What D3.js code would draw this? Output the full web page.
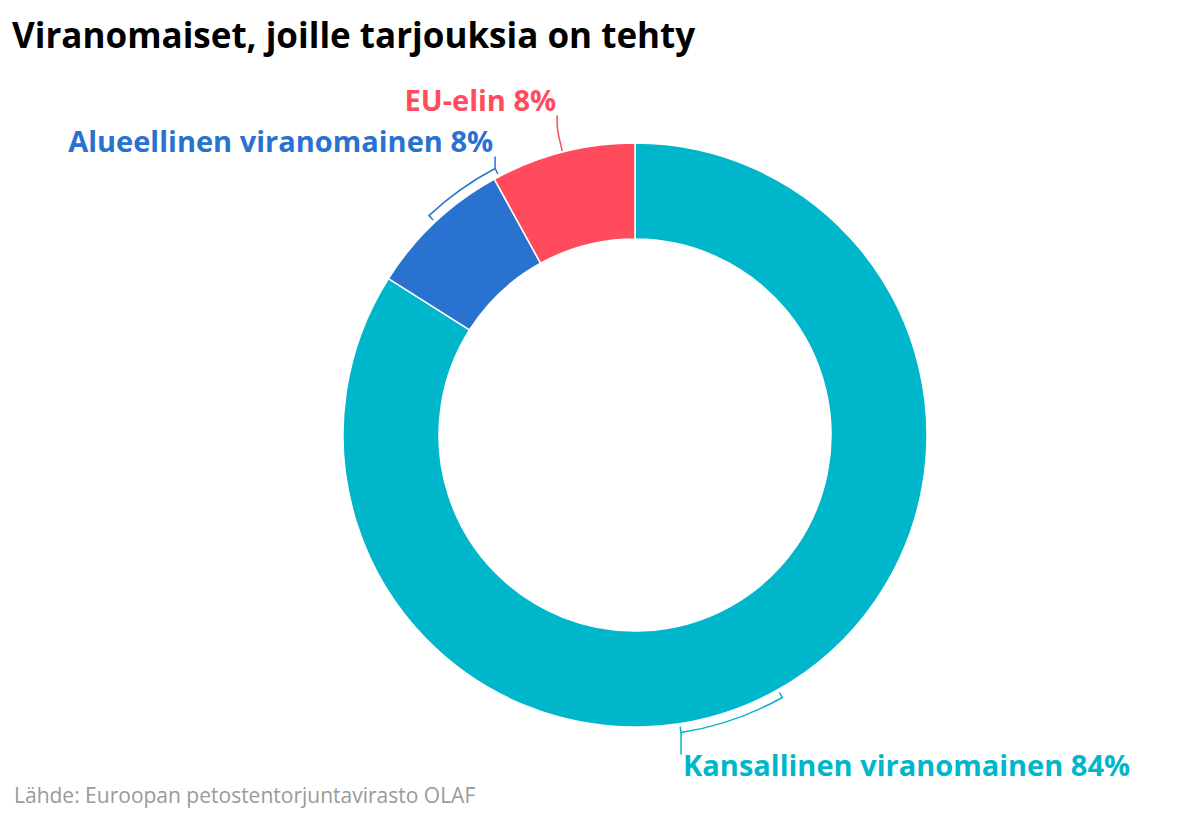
<!DOCTYPE html>
<html><head><meta charset="utf-8">
<script src="https://cdn.jsdelivr.net/npm/d3@7"></script>
<style>body{margin:0;background:#fff;font-family:"Open Sans",sans-serif}</style>
</head><body><svg id="c" width="1199" height="827"></svg>
<script>
const categories = ["Kansallinen viranomainen","Alueellinen viranomainen","EU-elin"];
const values = [84, 8, 8];
const colors = ["#00b6cb","#2a72d0","#ff4b5c"];
const title = "Viranomaiset, joille tarjouksia on tehty";
const source = "Lähde: Euroopan petostentorjuntavirasto OLAF";

const svg = d3.select("#c");
svg.append("text").attr("x",12).attr("y",48).attr("font-size",35).attr("font-weight",700)
  .attr("fill","#000").text(title);
svg.append("text").attr("x",14).attr("y",803).attr("font-size",21).attr("fill","#9a9a9a").text(source);

const cx=635, cy=435, R=292, r=196;
const g = svg.append("g").attr("transform",`translate(${cx},${cy})`);
const pie = d3.pie().sort(null).value(d=>d)(values);
const arc = d3.arc().innerRadius(r).outerRadius(R);
g.selectAll("path.s").data(pie).join("path").attr("class","s")
  .attr("d",arc).attr("fill",(d,i)=>colors[i]).attr("stroke","#fff").attr("stroke-width",1.5);

const pt=(a,rad)=>[rad*Math.sin(a), -rad*Math.cos(a)];
const deg=Math.PI/180;
// brackets
function bracket(a0,a1,i){
  const rr=301, ri=295;
  const p=d3.path();
  const s0=pt(a0,ri), s1=pt(a0,rr);
  p.moveTo(...s0); p.lineTo(...s1);
  p.arc(0,0,rr,a0-Math.PI/2,a1-Math.PI/2,false);
  const e=pt(a1,ri); p.lineTo(...e);
  g.append("path").attr("d",p.toString()).attr("fill","none").attr("stroke",colors[i]).attr("stroke-width",1.5);
}
const mid=d=>(d.startAngle+d.endAngle)/2;
// Kansallinen
bracket(mid(pie[0])-0.5*deg, mid(pie[0])+20*deg, 0);
{const e=pt(mid(pie[0])+20*deg,301);
 g.append("line").attr("x1",e[0]).attr("y1",e[1]).attr("x2",e[0]).attr("y2",e[1]+22).attr("stroke",colors[0]).attr("stroke-width",1.5);
 g.append("text").attr("x",e[0]+2).attr("y",e[1]+44).attr("font-size",29).attr("font-weight",700).attr("fill",colors[0])
  .text(`${categories[0]} ${values[0]}%`);}
// Alueellinen
bracket(mid(pie[1]), mid(pie[1])+15.5*deg, 1);
{const e=pt(mid(pie[1])+15.5*deg,301);
 g.append("line").attr("x1",e[0]).attr("y1",e[1]).attr("x2",e[0]).attr("y2",e[1]-12).attr("stroke",colors[1]).attr("stroke-width",1.5);
 g.append("text").attr("x",e[0]-2).attr("y",e[1]-17).attr("text-anchor","end").attr("font-size",29).attr("font-weight",700).attr("fill",colors[1])
  .text(`${categories[1]} ${values[1]}%`);}
// EU
{const s=pt(mid(pie[2]),293);
 g.append("path").attr("d",`M${s[0]},${s[1]} C${s[0]-2},${s[1]-12} ${s[0]-6},${s[1]-18} ${s[0]-5},${s[1]-36}`)
  .attr("fill","none").attr("stroke",colors[2]).attr("stroke-width",1.5);
 g.append("text").attr("x",s[0]-6).attr("y",s[1]-40).attr("text-anchor","end").attr("font-size",29).attr("font-weight",700).attr("fill",colors[2])
  .text(`${categories[2]} ${values[2]}%`);}
</script></body></html>
